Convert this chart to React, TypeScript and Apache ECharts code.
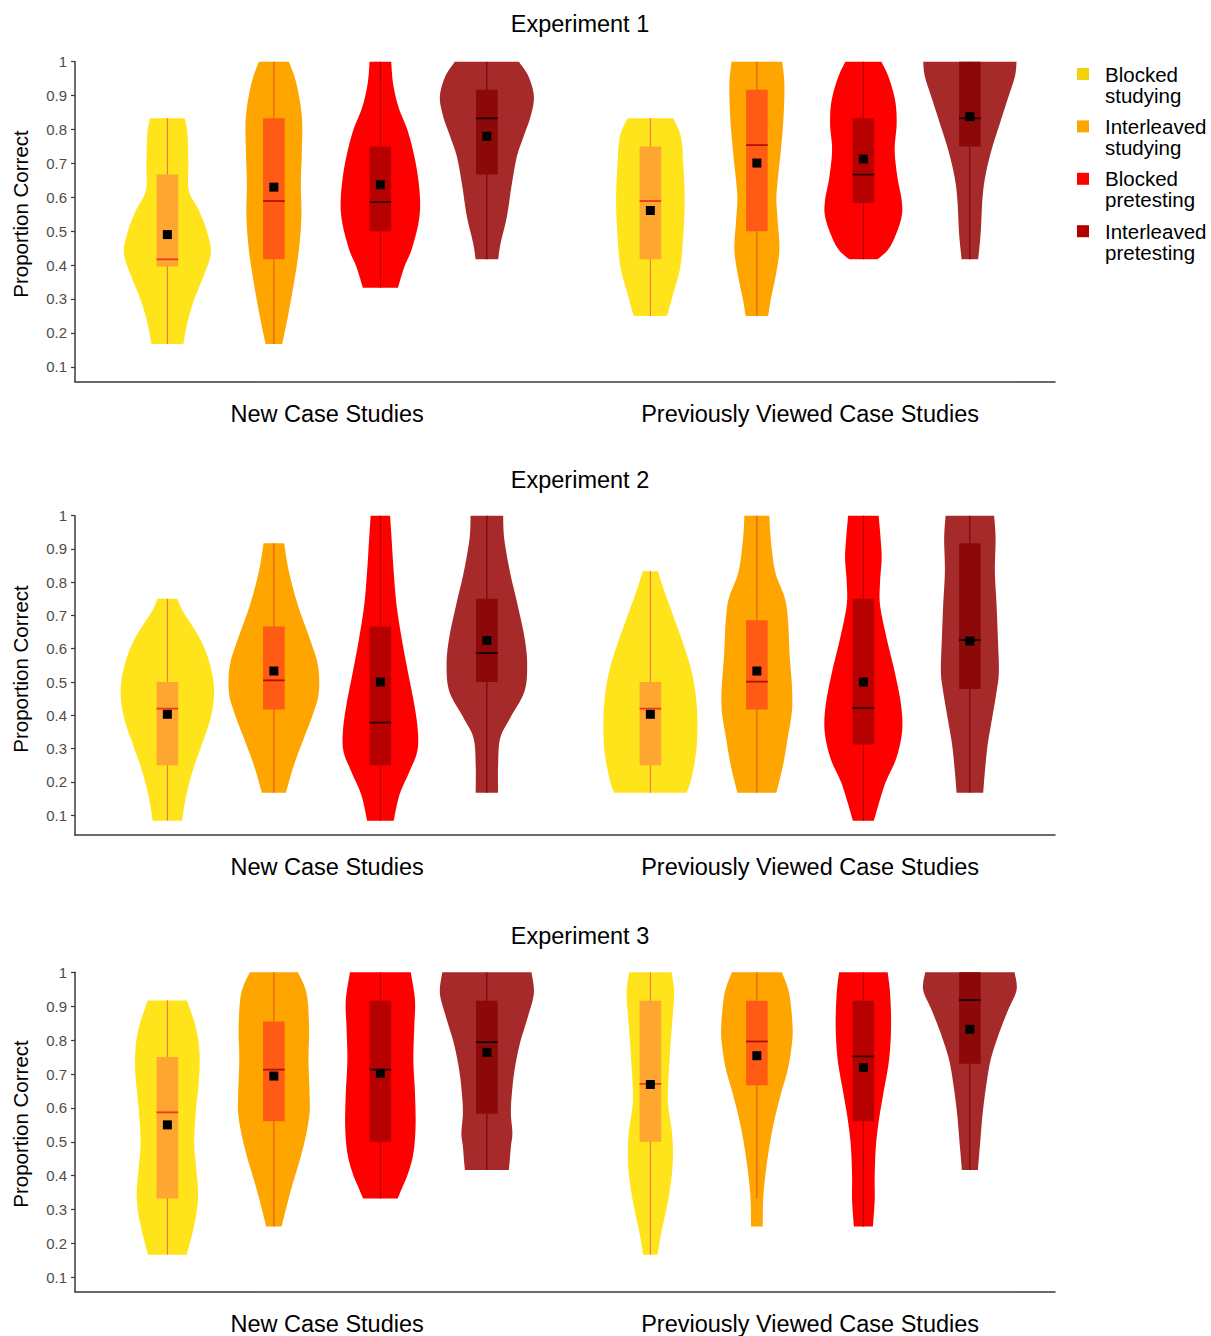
import React, { useEffect, useRef } from "react";
import * as echarts from "echarts";

// ---------- categories & ticks ----------
const EXPERIMENTS = ["Experiment 1", "Experiment 2", "Experiment 3"];
const GROUPS = ["New Case Studies", "Previously Viewed Case Studies"];
const CONDITIONS = ["Blocked\nstudying", "Interleaved\nstudying", "Blocked\npretesting", "Interleaved\npretesting"];
const Y_TICKS = [0.1, 0.2, 0.3, 0.4, 0.5, 0.6, 0.7, 0.8, 0.9, 1];

// order within each experiment: New (BS, IS, BP, IP), Previously viewed (BS, IS, BP, IP)
// ---------- Experiment 1 ----------
const E1_Q1 = [0.396, 0.417, 0.5, 0.667, 0.417, 0.5, 0.583, 0.75];
const E1_MEDIAN = [0.417, 0.589, 0.586, 0.833, 0.589, 0.754, 0.667, 0.833];
const E1_Q3 = [0.667, 0.833, 0.75, 0.917, 0.75, 0.917, 0.833, 1.0];
const E1_MEAN = [0.49, 0.63, 0.637, 0.78, 0.561, 0.701, 0.713, 0.838];
const E1_WHISKER_LO = [0.167, 0.167, 0.333, 0.417, 0.25, 0.25, 0.417, 0.417];
const E1_WHISKER_HI = [0.833, 1, 1, 1, 0.833, 1, 1, 1];
// density profiles: [value, density] from bottom to top
const E1_DENSITY = [
  [[0.167, 16], [0.23, 20], [0.3, 27], [0.366, 36], [0.435, 43.5], [0.5, 39.5], [0.56, 31.7], [0.62, 21.5], [0.7, 21], [0.79, 20], [0.833, 17.3]],
  [[0.167, 8.3], [0.248, 14], [0.346, 20], [0.444, 25], [0.543, 27.5], [0.64, 27], [0.74, 28], [0.838, 28], [0.936, 22.5], [1, 15]],
  [[0.333, 17.5], [0.395, 24], [0.444, 31], [0.523, 38], [0.592, 39.7], [0.69, 36], [0.79, 28], [0.867, 18], [0.936, 12.7], [1, 10.8]],
  [[0.417, 11.3], [0.464, 13.7], [0.543, 20], [0.64, 25], [0.72, 30], [0.779, 36.7], [0.838, 43.7], [0.897, 47], [0.956, 41.7], [1, 32]],
  [[0.25, 16.7], [0.317, 23], [0.395, 30], [0.494, 33], [0.592, 34.3], [0.69, 33], [0.779, 30.5], [0.833, 22.8]],
  [[0.25, 11.3], [0.297, 13.8], [0.366, 18.7], [0.444, 22.5], [0.523, 21], [0.592, 19.5], [0.64, 20.5], [0.74, 24], [0.838, 26.7], [0.936, 27.5], [1, 25.3]],
  [[0.417, 14.2], [0.444, 24.3], [0.484, 31.7], [0.543, 38.3], [0.592, 38.3], [0.66, 34], [0.74, 31.3], [0.818, 33.3], [0.887, 31.7], [0.956, 25], [1, 18]],
  [[0.417, 8.3], [0.494, 10.8], [0.592, 12.5], [0.66, 15.3], [0.74, 21.7], [0.818, 30], [0.887, 37.5], [0.956, 45], [1, 46.7]],
];

// ---------- Experiment 2 ----------
const E2_Q1 = [0.25, 0.417, 0.25, 0.5, 0.25, 0.417, 0.312, 0.479];
const E2_MEDIAN = [0.42, 0.505, 0.378, 0.587, 0.42, 0.501, 0.422, 0.626];
const E2_Q3 = [0.5, 0.667, 0.667, 0.75, 0.5, 0.686, 0.75, 0.917];
const E2_MEAN = [0.403, 0.533, 0.5, 0.625, 0.403, 0.533, 0.5, 0.623];
const E2_WHISKER_LO = [0.083, 0.167, 0.083, 0.167, 0.167, 0.167, 0.083, 0.167];
const E2_WHISKER_HI = [0.75, 0.917, 1, 1, 0.833, 1, 1, 1];
const E2_DENSITY = [
  [[0.083, 14.7], [0.15, 18.3], [0.23, 25], [0.31, 34.2], [0.392, 43.3], [0.471, 46.7], [0.551, 42.8], [0.631, 32.5], [0.711, 15.8], [0.75, 10]],
  [[0.167, 12], [0.25, 20], [0.331, 30], [0.411, 40], [0.471, 45], [0.551, 44], [0.631, 35.8], [0.731, 24], [0.832, 15], [0.917, 10.3]],
  [[0.083, 13.3], [0.16, 19], [0.23, 29], [0.29, 36.8], [0.351, 37.5], [0.431, 34], [0.531, 27.5], [0.631, 21.3], [0.731, 16.2], [0.832, 13.3], [0.932, 11.2], [1, 9.7]],
  [[0.167, 11.2], [0.25, 11.2], [0.331, 13.3], [0.392, 23.3], [0.471, 37.5], [0.551, 40.3], [0.631, 37.8], [0.731, 30.8], [0.832, 23], [0.932, 17.3], [1, 16.3]],
  [[0.167, 36.3], [0.21, 41], [0.291, 45.8], [0.371, 47], [0.451, 45.7], [0.531, 41.3], [0.611, 33.3], [0.691, 23.8], [0.771, 14.2], [0.833, 7.5]],
  [[0.167, 19.5], [0.25, 26.2], [0.331, 30.8], [0.411, 35], [0.481, 35.2], [0.581, 32.8], [0.682, 31.2], [0.752, 28], [0.832, 18.3], [0.932, 13.8], [1, 12.5]],
  [[0.083, 10.5], [0.19, 21.2], [0.27, 32.8], [0.351, 38.7], [0.431, 37.7], [0.531, 31.3], [0.631, 23.3], [0.731, 16.7], [0.802, 16.7], [0.872, 18.3], [0.932, 17.2], [1, 15.3]],
  [[0.167, 13.3], [0.23, 15], [0.31, 17.7], [0.392, 22.3], [0.471, 26.7], [0.531, 29], [0.631, 28], [0.731, 26.7], [0.832, 25], [0.932, 25.7], [1, 24.3]],
];

// ---------- Experiment 3 ----------
const E3_Q1 = [0.333, 0.561, 0.5, 0.583, 0.5, 0.667, 0.561, 0.73];
const E3_MEDIAN = [0.587, 0.713, 0.713, 0.794, 0.671, 0.796, 0.752, 0.918];
const E3_Q3 = [0.75, 0.855, 0.916, 0.916, 0.916, 0.916, 0.916, 1.0];
const E3_MEAN = [0.55, 0.694, 0.702, 0.764, 0.669, 0.754, 0.719, 0.832];
const E3_WHISKER_LO = [0.167, 0.25, 0.333, 0.417, 0.167, 0.333, 0.25, 0.417];
const E3_WHISKER_HI = [0.917, 1, 1, 1, 1, 1, 1, 1];
const E3_DENSITY = [
  [[0.167, 19.3], [0.23, 25], [0.289, 29], [0.348, 30.7], [0.427, 28.6], [0.5, 26.8], [0.594, 28.6], [0.692, 31.8], [0.771, 32], [0.84, 28.2], [0.917, 19.6]],
  [[0.25, 7.7], [0.299, 11.8], [0.367, 17.9], [0.446, 25.9], [0.515, 31.8], [0.584, 35.7], [0.643, 35.7], [0.742, 34.6], [0.84, 35.2], [0.938, 32.7], [1, 24.1]],
  [[0.333, 17.3], [0.368, 22.3], [0.407, 27.7], [0.466, 33], [0.545, 35.2], [0.643, 34.6], [0.742, 33], [0.84, 33.9], [0.918, 34.6], [1, 30.4]],
  [[0.417, 22], [0.446, 22.9], [0.486, 24], [0.525, 25.5], [0.584, 24], [0.643, 25], [0.712, 27.7], [0.79, 33], [0.869, 41], [0.938, 47], [1, 44.6]],
  [[0.167, 7.2], [0.23, 10.8], [0.299, 15.8], [0.368, 20], [0.446, 22.5], [0.525, 21.7], [0.594, 18.3], [0.643, 17.5], [0.742, 19.2], [0.84, 21.5], [0.938, 23.8], [1, 21.2]],
  [[0.25, 5.8], [0.328, 6.3], [0.397, 8.3], [0.486, 12.5], [0.564, 17.5], [0.643, 24.2], [0.712, 30.8], [0.781, 34.7], [0.84, 35.7], [0.938, 32.3], [1, 25]],
  [[0.25, 9.5], [0.328, 11.3], [0.397, 11.3], [0.486, 12.5], [0.564, 15.5], [0.643, 20], [0.742, 25.7], [0.84, 27.7], [0.938, 26.7], [1, 24.3]],
  [[0.417, 8], [0.505, 10.5], [0.584, 12.8], [0.663, 16.2], [0.742, 20.8], [0.82, 29.2], [0.889, 38.3], [0.948, 46.7], [1, 44.7]],
];

const PANELS = [
  { q1: E1_Q1, median: E1_MEDIAN, q3: E1_Q3, mean: E1_MEAN, lo: E1_WHISKER_LO, hi: E1_WHISKER_HI, density: E1_DENSITY },
  { q1: E2_Q1, median: E2_MEDIAN, q3: E2_Q3, mean: E2_MEAN, lo: E2_WHISKER_LO, hi: E2_WHISKER_HI, density: E2_DENSITY },
  { q1: E3_Q1, median: E3_MEDIAN, q3: E3_Q3, mean: E3_MEAN, lo: E3_WHISKER_LO, hi: E3_WHISKER_HI, density: E3_DENSITY },
];

// ---------- styles & layout ----------
const FONT = "'Liberation Sans', Arial, sans-serif";
const VIOLIN_FILL = ["#FFE31B", "#FFA500", "#FF0000", "#A62A2A"];
const BOX_FILL = ["#FFA631", "#FF5B14", "#B70000", "#8B0909"];
const MEDIAN_COLOR = ["#EE3A1A", "#B01208", "#2B0000", "#1A0000"];
const WHISKER_COLOR = ["#EF6A4E", "#E4501D", "#A50000", "#6E0000"];
const LEGEND_COLOR = ["#F2D30A", "#FFA500", "#FF0000", "#B00000"];

const GRID_LEFT = 75;
const GRID_WIDTH = 980;
const GRID_TOPS = [61.7, 515.7, 972.3];
const GRID_HEIGHTS = [320, 319.3, 319.4];
const Y_MINS = [0.056, 0.04, 0.058];
const TITLE_Y = [24, 480, 936];
const YNAME_Y = [214, 669, 1124];
const X_MIN = 0.478;
const X_MAX = 2.507;
const GROUP_POS = [1, 2];
const DODGE = 0.2205;
const DENS_TO_X = 1 / 483;
const BOX_HALF = 10.8;
const MEAN_SIZE = 9;

function catmull(pts: number[][], steps = 10) {
  const out: number[][] = [];
  const n = pts.length;
  for (let i = 0; i < n - 1; i++) {
    const p0 = pts[Math.max(i - 1, 0)], p1 = pts[i], p2 = pts[i + 1], p3 = pts[Math.min(i + 2, n - 1)];
    for (let s = 0; s < steps; s++) {
      const t = s / steps, t2 = t * t, t3 = t2 * t;
      const f = (a: number, b: number, c: number, d: number) =>
        0.5 * (2 * b + (-a + c) * t + (2 * a - 5 * b + 4 * c - d) * t2 + (-a + 3 * b - 3 * c + d) * t3);
      out.push([f(p0[0], p1[0], p2[0], p3[0]), Math.max(0, f(p0[1], p1[1], p2[1], p3[1]))]);
    }
  }
  out.push(pts[n - 1]);
  return out;
}

function makeRenderItem(p: any) {
  return (params: any, api: any) => {
    const idx = api.value(2);
    const k = idx % 4;
    const xPos = api.value(0);
    const cx = api.coord([xPos, 1])[0];
    const yOf = (v: number) => api.coord([xPos, v])[1];
    const unit = api.size([DENS_TO_X, 0])[0];
    const prof = p.density[idx].map((d: number[]) => [yOf(d[0]), d[1] * unit]);
    const side = catmull(prof);
    const right = side.map(([y, w]) => [cx + w, y]);
    const left = side.slice().reverse().map(([y, w]) => [cx - w, y]);
    const yq1 = yOf(p.q1[idx]);
    const yq3 = yOf(p.q3[idx]);
    const ymed = yOf(p.median[idx]);
    const ymean = yOf(p.mean[idx]);
    return {
      type: "group",
      children: [
        { type: "polygon", shape: { points: right.concat(left) }, style: { fill: VIOLIN_FILL[k], stroke: null } },
        {
          type: "line",
          shape: { x1: cx, y1: yOf(p.lo[idx]), x2: cx, y2: yOf(p.hi[idx]) },
          style: { stroke: WHISKER_COLOR[k], lineWidth: 1 },
        },
        { type: "rect", shape: { x: cx - BOX_HALF, y: yq3, width: BOX_HALF * 2, height: yq1 - yq3 }, style: { fill: BOX_FILL[k] } },
        {
          type: "line",
          shape: { x1: cx - BOX_HALF, y1: ymed, x2: cx + BOX_HALF, y2: ymed },
          style: { stroke: MEDIAN_COLOR[k], lineWidth: 1.8 },
        },
        {
          type: "rect",
          shape: { x: cx - MEAN_SIZE / 2, y: ymean - MEAN_SIZE / 2, width: MEAN_SIZE, height: MEAN_SIZE },
          style: { fill: "#000" },
        },
      ],
    };
  };
}

export default function App() {
  const ref = useRef<HTMLDivElement>(null);
  useEffect(() => {
    if (!ref.current) return;
    const chart = echarts.init(ref.current, undefined, { renderer: "svg" });
    const grids = GRID_TOPS.map((top, i) => ({ left: GRID_LEFT, top, width: GRID_WIDTH, height: GRID_HEIGHTS[i] }));
    const xAxes = GRID_TOPS.map((_, i) => ({
      type: "value",
      gridIndex: i,
      min: X_MIN,
      max: X_MAX,
      axisLine: { show: true, onZero: false, lineStyle: { color: "#3a3a3a", width: 1.5 } },
      axisTick: { show: false, customValues: GROUP_POS },
      splitLine: { show: false },
      axisLabel: {
        customValues: GROUP_POS,
        formatter: (v: number) => GROUPS[Math.round(v) - 1] || "",
        fontSize: 23.5,
        color: "#000",
        fontFamily: FONT,
        margin: 20,
      },
    }));
    const yAxes = GRID_TOPS.map((_, i) => ({
      type: "value",
      gridIndex: i,
      min: Y_MINS[i],
      max: 1,
      axisLine: { show: true, onZero: false, lineStyle: { color: "#3a3a3a", width: 1.5 } },
      axisTick: { show: true, length: 4, customValues: Y_TICKS, lineStyle: { color: "#3a3a3a", width: 1.2 } },
      splitLine: { show: false },
      axisLabel: {
        customValues: Y_TICKS,
        formatter: (v: number) => String(Math.round(v * 10) / 10),
        fontSize: 15,
        color: "#4d4d4d",
        fontFamily: FONT,
        margin: 8,
      },
    }));
    const series = PANELS.map((p, i) => ({
      type: "custom",
      xAxisIndex: i,
      yAxisIndex: i,
      clip: false,
      silent: true,
      renderItem: makeRenderItem(p),
      encode: { x: 0, y: 1 },
      data: p.mean.map((m, idx) => [GROUP_POS[Math.floor(idx / 4)] + ((idx % 4) - 1.5) * DODGE, m, idx]),
    }));
    const graphic: any[] = [];
    EXPERIMENTS.forEach((t, i) => {
      graphic.push({
        type: "text",
        x: 580,
        y: TITLE_Y[i],
        style: { text: t, fontSize: 23.5, fontFamily: FONT, fill: "#000", align: "center", verticalAlign: "middle" },
      });
      graphic.push({
        type: "text",
        x: 20,
        y: YNAME_Y[i],
        rotation: Math.PI / 2,
        style: { text: "Proportion Correct", fontSize: 20.5, fontFamily: FONT, fill: "#000", align: "center", verticalAlign: "middle" },
      });
    });
    CONDITIONS.forEach((c, k) => {
      const cy = 74 + k * 52.4;
      graphic.push({ type: "rect", shape: { x: 1077, y: cy - 6, width: 12, height: 12 }, style: { fill: LEGEND_COLOR[k] } });
      graphic.push({
        type: "text",
        x: 1105,
        y: cy - 10.5,
        style: { text: c, fontSize: 20.5, lineHeight: 21, fontFamily: FONT, fill: "#000", align: "left", verticalAlign: "top" },
      });
    });
    chart.setOption({
      animation: false,
      backgroundColor: "#fff",
      grid: grids,
      xAxis: xAxes,
      yAxis: yAxes,
      series,
      graphic,
    });
    return () => chart.dispose();
  }, []);
  return <div ref={ref} style={{ position: "absolute", left: 0, top: 0, width: 1211, height: 1336 }} />;
}
